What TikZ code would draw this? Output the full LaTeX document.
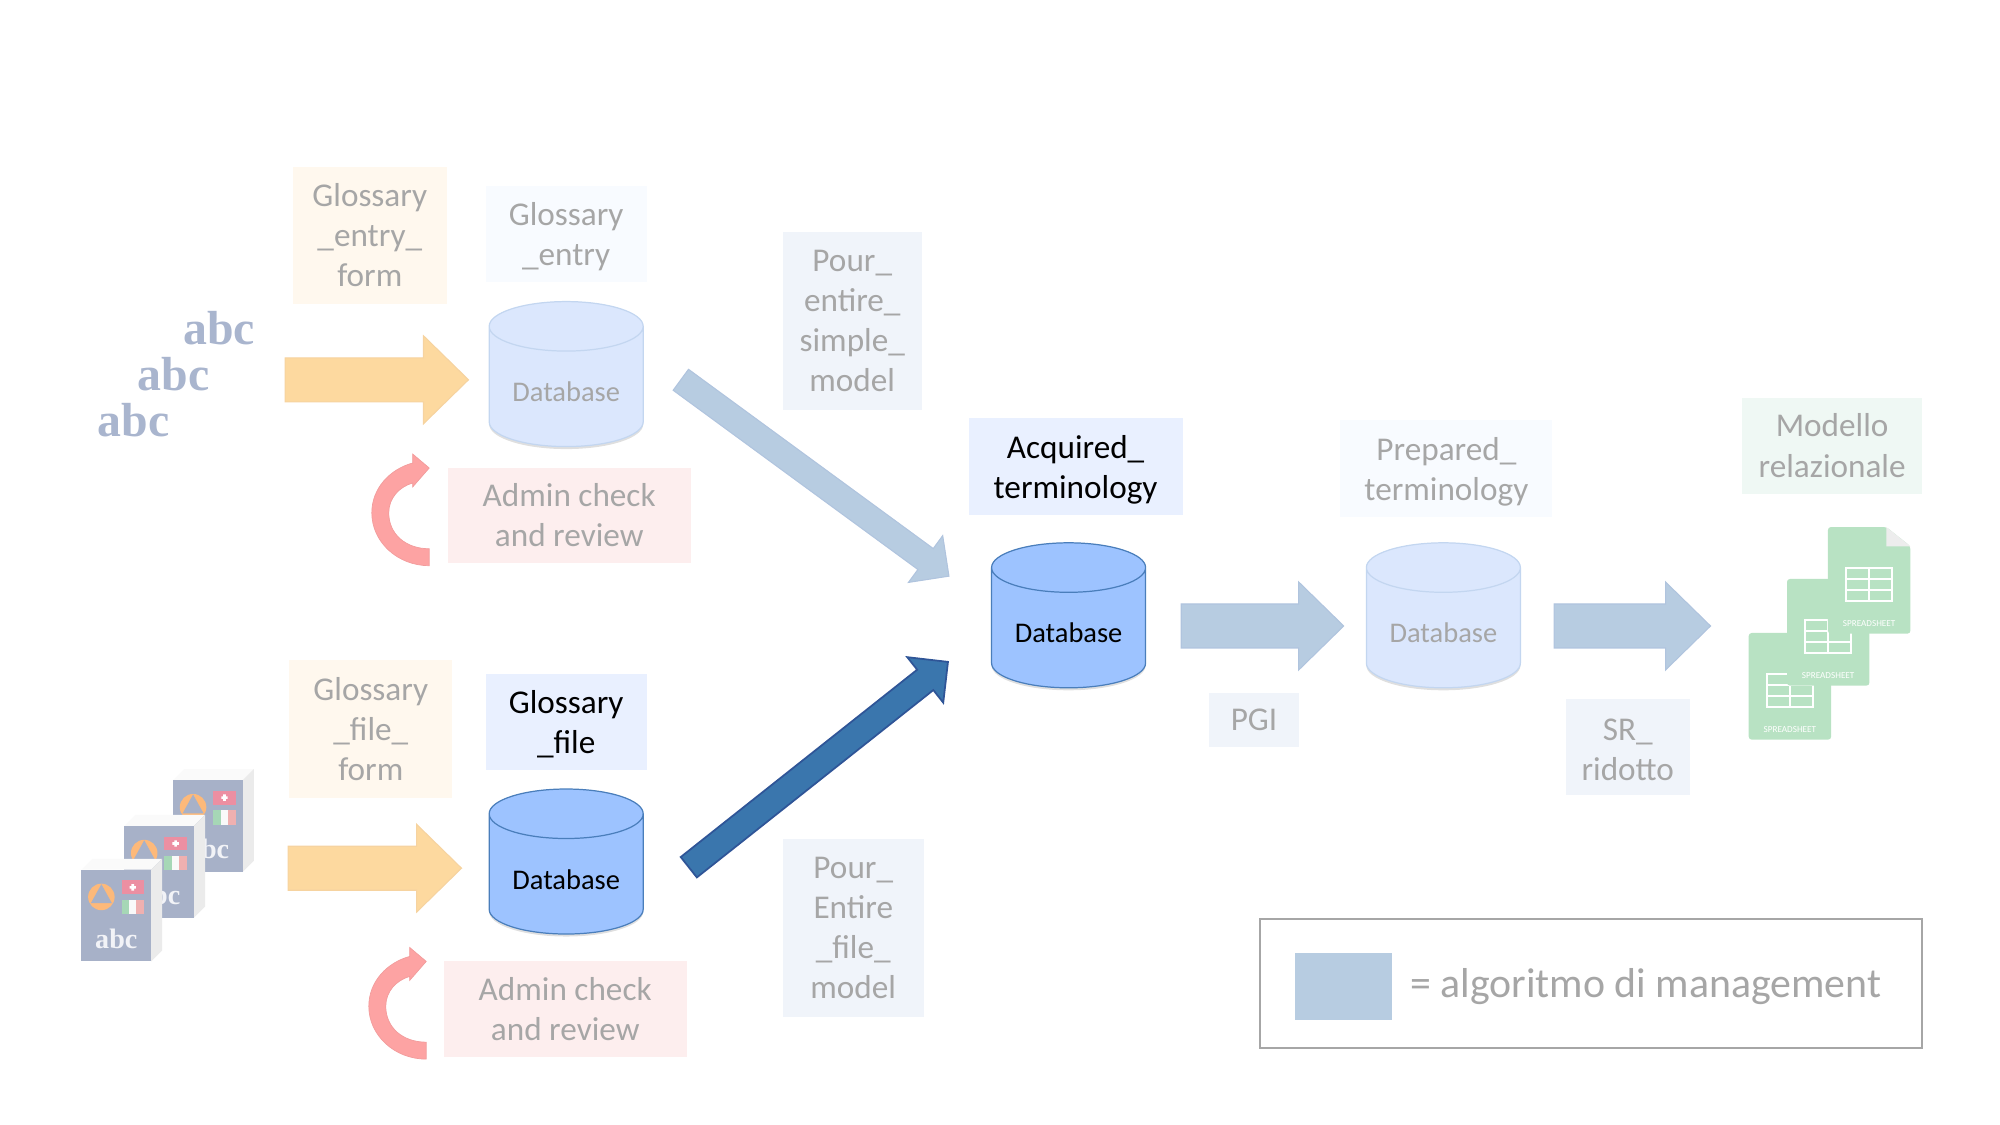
\documentclass[tikz,border=0pt]{standalone}
\usepackage{fontspec}
\setmainfont{Carlito}
\newfontfamily\abcfont{Liberation Serif}
\usetikzlibrary{calc,shapes.geometric,shadows}
\definecolor{graytext}{HTML}{A6A6A6}
\definecolor{orangebg}{HTML}{FFF8EE}
\definecolor{palebg}{HTML}{F8FBFF}
\definecolor{slatebg}{HTML}{F0F4FA}
\definecolor{acquiredbg}{HTML}{E9F0FF}
\definecolor{greenbg}{HTML}{EFF8F4}
\definecolor{redbg}{HTML}{FDEEEE}
\definecolor{dbstrong}{HTML}{9DC3FF}
\definecolor{dbstrongline}{HTML}{4A7EBB}
\definecolor{dbpale}{HTML}{DBE7FD}
\definecolor{dbpaleline}{HTML}{C3D6F0}
\definecolor{orangearrow}{HTML}{FDD99F}
\definecolor{orangeline}{HTML}{F6D3A0}
\definecolor{bluearrow}{HTML}{B7CCE1}
\definecolor{bluearrowline}{HTML}{B0C4DE}
\definecolor{darkarrow}{HTML}{3A76AD}
\definecolor{darkarrowline}{HTML}{2F5597}
\definecolor{redarrow}{HTML}{FDA3A3}
\definecolor{bookblue}{HTML}{A7B1C8}
\definecolor{abcblue}{HTML}{A9B5CE}
\definecolor{sheetgreen}{HTML}{B8E2C3}
\definecolor{swissred}{HTML}{EC8FA2}
\definecolor{itgreen}{HTML}{A6D7B6}
\definecolor{itred}{HTML}{EFB0B0}
\definecolor{ringorange}{HTML}{FDB97A}
\newcommand{\lift}{\rule{0pt}{2.96mm}}
\newcommand{\liftsmall}{\rule{0pt}{2.75mm}}
\tikzset{
  labelbox/.style={inner sep=0pt,align=center,text=graytext,font=\fontsize{9.45}{11.4}\selectfont},
  dbcyl/.style={cylinder,shape border rotate=90,shape aspect=0.46,minimum width=15.4mm,minimum height=14.5mm,
    inner sep=0pt,line width=0.35pt,font=\fontsize{8.1}{9}\selectfont,text height=3.6mm,text depth=0.6mm,
    drop shadow={shadow xshift=0pt,shadow yshift=-0.25mm,opacity=0.25}},
  blockarrow/.style n args={3}{to path={
    -- ($(\tikztostart)!#1!-90:(\tikztotarget)$)
    -- ($($(\tikztotarget)!#3!(\tikztostart)$)!#1!-90:(\tikztotarget)$)
    -- ($($(\tikztotarget)!#3!(\tikztostart)$)!#2!-90:(\tikztotarget)$)
    -- (\tikztotarget)
    -- ($($(\tikztotarget)!#3!(\tikztostart)$)!#2!90:(\tikztotarget)$)
    -- ($($(\tikztotarget)!#3!(\tikztostart)$)!#1!90:(\tikztotarget)$)
    -- ($(\tikztostart)!#1!90:(\tikztotarget)$)
    -- cycle}},
  orangearrow/.style={fill=orangearrow,draw=orangeline,line width=0.3pt},
  bluearrow/.style={fill=bluearrow,draw=bluearrowline,line width=0.3pt},
  darkarrow/.style={fill=darkarrow,draw=darkarrowline,line width=0.5pt},
  pics/reviewarrow/.style={code={
    \filldraw[fill=redarrow,draw=redarrow!85!black!30!redarrow,line width=0.2pt]
      (0,0) .. controls (-3.2,0) and (-5.76,-2.4) .. (-5.76,-5.3)
      .. controls (-5.76,-7.8) and (-3.9,-9.7) .. (-1.66,-10.3)
      -- (-1.66,-11.2) -- (0,-9.8) -- (-1.66,-7.9) -- (-1.66,-8.3)
      .. controls (-3.0,-7.9) and (-4.06,-6.8) .. (-4.06,-5.3)
      .. controls (-4.06,-3.2) and (-2.4,-1.7) .. (0,-1.7) -- cycle;
  }},
  pics/bookicon/.style={code={
    \fill[fill=white!98!black] (0,0) -- (1.1,-1.1) -- (8.1,-1.1) -- (7,0) -- cycle;
    \fill[fill=white!92!black] (7,0) -- (8.1,-1.1) -- (8.1,8.1) -- (7,9.2) -- cycle;
    \fill[bookblue] (0,0) rectangle (7,9.2);
    \fill[ringorange] (2,2.73) circle (1.33);
    \fill[bookblue] (2,1.45) -- (3.05,3.35) -- (0.95,3.35) -- cycle;
    \fill[swissred] (4.03,1.07) rectangle (6.27,2.47);
    \fill[white] (5.02,1.45) rectangle (5.28,2.09) (4.83,1.64) rectangle (5.47,1.9);
    \fill[itgreen] (4.03,3) rectangle (4.78,4.47);
    \fill[white!95!gray] (4.78,3) rectangle (5.52,4.47);
    \fill[itred] (5.52,3) rectangle (6.27,4.47);
    \node[text=white!85!bookblue,font=\abcfont\bfseries\fontsize{8}{9}\selectfont] at (3.5,6.9) {abc};
  }},
  pics/sheeticon/.style={code={
    \fill[sheetgreen,rounded corners=0.3mm] (0,0) -- (5.85,0) -- (8.27,1.93) -- (8.27,10.7) -- (0,10.7) -- cycle;
    \fill[white!93!black] (5.85,0) -- (8.27,1.93) -- (5.85,1.93) -- cycle;
    \draw[white,line width=0.2mm] (1.83,4.1) rectangle (6.43,7.43) (4.13,4.1) -- (4.13,7.43)
      (1.83,5.2) -- (6.43,5.2) (1.83,6.3) -- (6.43,6.3);
    \node[text=white,font=\fontsize{2.6}{3}\selectfont] at (4.13,9.67) {SPREADSHEET};
  }}
}
\begin{document}
\begin{tikzpicture}[x=0.9968mm,y=-0.9968mm]
\useasboundingbox (0,0) rectangle (200.64,112.86);
\node[labelbox,fill=orangebg,minimum width=15.4mm,minimum height=13.7mm] (entryform) at (37.1,23.6) {Glossary\\\_entry\_\\form};
\node[labelbox,fill=palebg,minimum width=16.1mm,minimum height=9.6mm] (entrylabel) at (56.8,23.5) {\liftsmall Glossary\\\_entry};
\node[labelbox,fill=slatebg,minimum width=13.9mm,minimum height=17.8mm] (poursimple) at (85.5,32.2) {Pour\_\\entire\_\\simple\_\\model};
\node[labelbox,fill=acquiredbg,text=black,minimum width=21.4mm,minimum height=9.7mm] (acquired) at (107.9,46.8) {\lift Acquired\_\\terminology};
\node[labelbox,fill=palebg,minimum width=21.2mm,minimum height=9.6mm] (prepared) at (145.1,47) {\lift Prepared\_\\terminology};
\node[labelbox,fill=greenbg,minimum width=18mm,minimum height=9.6mm] (modello) at (183.8,44.7) {Modello\\relazionale};
\node[labelbox,fill=redbg,minimum width=24.3mm,minimum height=9.5mm] (reviewone) at (57.1,51.7) {Admin check\\and review};
\node[labelbox,fill=orangebg,minimum width=16.3mm,minimum height=13.8mm] (fileform) at (37.2,73.1) {Glossary\\\_file\_\\form};
\node[labelbox,fill=acquiredbg,text=black,minimum width=16.1mm,minimum height=9.6mm] (filelabel) at (56.8,72.4) {\liftsmall Glossary\\\_file};
\node[labelbox,fill=redbg,minimum width=24.3mm,minimum height=9.6mm] (reviewtwo) at (56.7,101.2) {Admin check\\and review};
\node[labelbox,fill=slatebg,minimum width=14.1mm,minimum height=17.8mm] (pourfile) at (85.6,93.1) {Pour\_\\Entire\\\_file\_\\model};
\node[labelbox,fill=slatebg,minimum width=9mm,minimum height=5.4mm] (pgi) at (125.8,72.2) {PGI};
\node[labelbox,fill=slatebg,minimum width=12.4mm,minimum height=9.6mm] (srrid) at (163.3,74.9) {\liftsmall SR\_\\ridotto};

\node[dbcyl,fill=dbpale,draw=dbpaleline,text=graytext] (dbentry) at (56.8,38.8) {Database};
\node[dbcyl,fill=dbstrong,draw=dbstrongline] (dbfile) at (56.8,87.7) {Database};
\node[dbcyl,fill=dbstrong,draw=dbstrongline] (dbacquired) at (107.2,63) {Database};
\node[dbcyl,fill=dbpale,draw=dbpaleline,text=graytext] (dbprepared) at (144.8,63) {Database};

\coordinate (entrya) at (28.6,38.1);
\coordinate (entryb) at (47,38.1);
\coordinate (filea) at (28.9,87.1);
\coordinate (fileb) at (46.3,87.1);
\coordinate (acqa) at (118.5,62.8);
\coordinate (acqb) at (134.8,62.8);
\coordinate (prepa) at (155.9,62.8);
\coordinate (prepb) at (171.6,62.8);
\coordinate (simplea) at (68.3,38.1);
\coordinate (simpleb) at (95.2,57.8);
\coordinate (pourfa) at (69.1,87);
\coordinate (pourfb) at (95.1,66.4);
\draw[orangearrow] (entrya) to[blockarrow={2.2mm}{4.4mm}{4.5mm}] (entryb);
\draw[orangearrow] (filea) to[blockarrow={2.2mm}{4.4mm}{4.5mm}] (fileb);
\draw[bluearrow] (acqa) to[blockarrow={2.2mm}{4.4mm}{4.5mm}] (acqb);
\draw[bluearrow] (prepa) to[blockarrow={2.2mm}{4.4mm}{4.5mm}] (prepb);
\draw[bluearrow] (simplea) to[blockarrow={1.3mm}{2.9mm}{2.9mm}] (simpleb);
\draw[darkarrow] (pourfa) to[blockarrow={1.3mm}{2.9mm}{2.9mm}] (pourfb);

\pic at (43.06,56.75) {reviewarrow};
\pic at (42.76,106.25) {reviewarrow};

\node[text=abcblue,font=\abcfont\bfseries\fontsize{13.6}{15}\selectfont] (abcone) at (22,32.95) {abc};
\node[text=abcblue,font=\abcfont\bfseries\fontsize{13.6}{15}\selectfont] (abctwo) at (17.4,37.55) {abc};
\node[text=abcblue,font=\abcfont\bfseries\fontsize{13.6}{15}\selectfont] (abcthree) at (13.4,42.15) {abc};

\pic at (17.37,78.25) {bookicon};
\pic at (12.47,82.85) {bookicon};
\pic at (8.17,87.25) {bookicon};

\pic at (175.43,63.5) {sheeticon};
\pic at (179.27,58.08) {sheeticon};
\pic at (183.38,52.87) {sheeticon};

\node[draw=graytext,line width=0.5pt,minimum width=66.2mm,minimum height=12.9mm] (legendbox) at (159.6,98.7) {};
\node[fill=bluearrow,minimum width=9.7mm,minimum height=6.7mm,inner sep=0pt] (swatch) at (134.8,99) {};
\node[right=0pt,inner sep=0pt,text=graytext,font=\fontsize{11.9}{13}\selectfont] (legendtext) at (141.4,98.95) {= algoritmo di management};
\end{tikzpicture}
\end{document}
